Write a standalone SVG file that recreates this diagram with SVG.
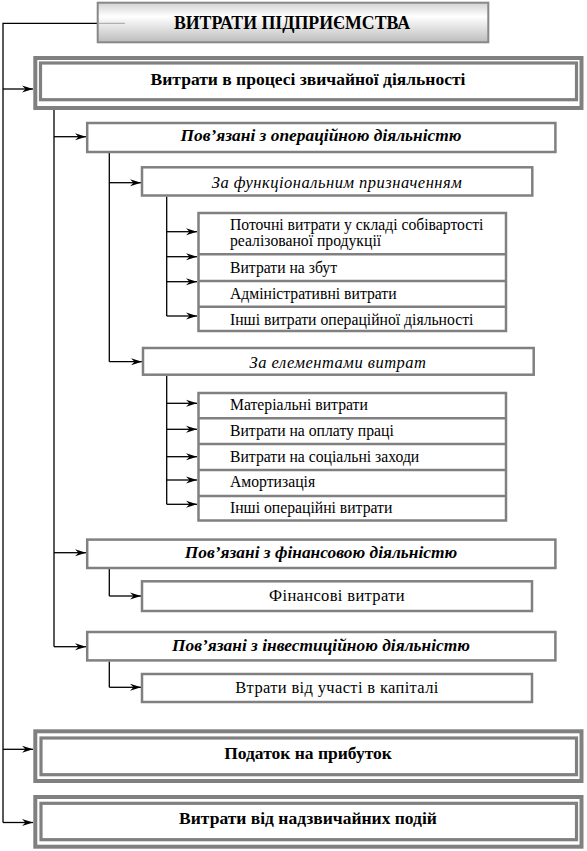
<svg xmlns="http://www.w3.org/2000/svg" width="587" height="851" viewBox="0 0 587 851" font-family="'Liberation Serif', 'Times New Roman', serif">
<style>
text{font-family:'Liberation Serif','Times New Roman',serif;fill:#000}
.b{font-weight:bold}
.bi{font-weight:bold;font-style:italic;font-size:17.4px}
.i{font-style:italic;font-size:16.5px;letter-spacing:0.5px}
.t{font-size:15.7px}
.s{font-size:16.5px;letter-spacing:0.35px}
.m{font-size:17.5px}
.box{fill:#fff;stroke:#808080;stroke-width:2.5}
.out{fill:#fff;stroke:#808080;stroke-width:4}
.inn{fill:#fff;stroke:#808080;stroke-width:3.2}
.div{stroke:#808080;stroke-width:2.5}
.c{fill:none;stroke:#000;stroke-width:1.3}
</style>
<defs>
<linearGradient id="g" x1="0" y1="0" x2="0" y2="1">
<stop offset="0" stop-color="#d2d2d2"/>
<stop offset="0.35" stop-color="#ffffff"/>
<stop offset="1" stop-color="#bcbcbc"/>
</linearGradient>
<marker id="a" markerUnits="userSpaceOnUse" markerWidth="12" markerHeight="8" refX="11" refY="4" orient="auto">
<path d="M0,0.5 L11,4 L0,7.5 L3.5,4 Z" fill="#000"/>
</marker>
</defs>

<g id="connectors">
<path class="c" d="M97,23.3 H3 V822.5"/>
<line x1="97" y1="23.3" x2="125" y2="23.3" stroke="#a0a0a0" stroke-width="1"/>
<line class="c" x1="3" y1="89" x2="33" y2="89" marker-end="url(#a)"/>
<line class="c" x1="3" y1="749.3" x2="33" y2="749.3" marker-end="url(#a)"/>
<line class="c" x1="3" y1="822.5" x2="33" y2="822.5" marker-end="url(#a)"/>
<path class="c" d="M54,108 V646.7"/>
<line class="c" x1="54" y1="136.7" x2="86" y2="136.7" marker-end="url(#a)"/>
<line class="c" x1="54" y1="552.7" x2="86" y2="552.7" marker-end="url(#a)"/>
<line class="c" x1="54" y1="646.7" x2="86" y2="646.7" marker-end="url(#a)"/>
<path class="c" d="M109.3,153 V361.7"/>
<line class="c" x1="109.3" y1="182.7" x2="141" y2="182.7" marker-end="url(#a)"/>
<line class="c" x1="109.3" y1="361.7" x2="142" y2="361.7" marker-end="url(#a)"/>
<path class="c" d="M166.7,196.5 V316"/>
<line class="c" x1="166.7" y1="231.7" x2="197" y2="231.7" marker-end="url(#a)"/>
<line class="c" x1="166.7" y1="256.7" x2="197" y2="256.7" marker-end="url(#a)"/>
<line class="c" x1="166.7" y1="281.7" x2="197" y2="281.7" marker-end="url(#a)"/>
<line class="c" x1="166.7" y1="316" x2="197" y2="316" marker-end="url(#a)"/>
<path class="c" d="M166.7,376 V504.3"/>
<line class="c" x1="166.7" y1="403.3" x2="197" y2="403.3" marker-end="url(#a)"/>
<line class="c" x1="166.7" y1="429.3" x2="197" y2="429.3" marker-end="url(#a)"/>
<line class="c" x1="166.7" y1="456.7" x2="197" y2="456.7" marker-end="url(#a)"/>
<line class="c" x1="166.7" y1="480" x2="197" y2="480" marker-end="url(#a)"/>
<line class="c" x1="166.7" y1="504.3" x2="197" y2="504.3" marker-end="url(#a)"/>
<path class="c" d="M109.3,569 V596"/>
<line class="c" x1="109.3" y1="596" x2="141" y2="596" marker-end="url(#a)"/>
<path class="c" d="M109.3,661.5 V687.3"/>
<line class="c" x1="109.3" y1="687.3" x2="141" y2="687.3" marker-end="url(#a)"/>
</g>

<g id="root">
<rect x="97.7" y="2.7" width="390.6" height="39.6" fill="url(#g)" stroke="#888" stroke-width="2"/>
<line x1="98.7" y1="23.3" x2="125" y2="23.3" stroke="#a0a0a0" stroke-width="1"/>
<text class="b" x="292" y="28.5" font-size="17.8" text-anchor="middle">ВИТРАТИ ПІДПРИЄМСТВА</text>
</g>

<g id="ordinary">
<rect class="out" x="35.3" y="58" width="546.2" height="50"/>
<rect class="inn" x="40.5" y="63" width="536" height="36.7"/>
<text class="b m" x="308" y="85" text-anchor="middle">Витрати в процесі звичайної діяльності</text>
</g>

<g id="operational">
<rect class="box" x="87.2" y="123" width="468.2" height="29"/>
<text class="bi" x="321" y="141" text-anchor="middle">Пов’язані з операційною діяльністю</text>
</g>

<g id="functional">
<rect class="box" x="142" y="167.3" width="390.3" height="28.2"/>
<text class="i" x="337" y="188" text-anchor="middle">За функціональним призначенням</text>
</g>

<g id="functional-items">
<rect class="box" x="198.5" y="213" width="307.5" height="118"/>
<line class="div" x1="198.5" y1="254.3" x2="506" y2="254.3"/>
<line class="div" x1="198.5" y1="281" x2="506" y2="281"/>
<line class="div" x1="198.5" y1="306.7" x2="506" y2="306.7"/>
<text class="t" x="230" y="230.3">Поточні витрати у складі собівартості</text>
<text class="t" x="230" y="245.8">реалізованої продукції</text>
<text class="t" x="230" y="273">Витрати на збут</text>
<text class="t" x="230" y="299">Адміністративні витрати</text>
<text class="t" x="230" y="325">Інші витрати операційної діяльності</text>
</g>

<g id="elements">
<rect class="box" x="143" y="348" width="390.7" height="26.7"/>
<text class="i" x="338" y="368" text-anchor="middle">За елементами витрат</text>
</g>

<g id="element-items">
<rect class="box" x="198.5" y="393" width="307.5" height="127.5"/>
<line class="div" x1="198.5" y1="418.3" x2="506" y2="418.3"/>
<line class="div" x1="198.5" y1="444" x2="506" y2="444"/>
<line class="div" x1="198.5" y1="470" x2="506" y2="470"/>
<line class="div" x1="198.5" y1="496" x2="506" y2="496"/>
<text class="t" x="230" y="410">Матеріальні витрати</text>
<text class="t" x="230" y="436">Витрати на оплату праці</text>
<text class="t" x="230" y="461.5">Витрати на соціальні заходи</text>
<text class="t" x="230" y="486.5">Амортизація</text>
<text class="t" x="230" y="513">Інші операційні витрати</text>
</g>

<g id="financial">
<rect class="box" x="87.2" y="539.6" width="468.2" height="28.4"/>
<text class="bi" x="321" y="558" text-anchor="middle">Пов’язані з фінансовою діяльністю</text>
</g>

<g id="financial-costs">
<rect class="box" x="142" y="581.3" width="390" height="29.7"/>
<text class="s" x="337" y="601" text-anchor="middle">Фінансові витрати</text>
</g>

<g id="investment">
<rect class="box" x="87.2" y="632" width="468.2" height="28.4"/>
<text class="bi" x="321" y="650.5" text-anchor="middle">Пов’язані з інвестиційною діяльністю</text>
</g>

<g id="investment-losses">
<rect class="box" x="142" y="674" width="390" height="28"/>
<text class="s" x="337" y="693" text-anchor="middle">Втрати від участі в капіталі</text>
</g>

<g id="tax">
<rect class="out" x="35.3" y="731.3" width="546.2" height="49.7"/>
<rect class="inn" x="41" y="738" width="535.5" height="36.7"/>
<text class="b m" x="308" y="759" text-anchor="middle">Податок на прибуток</text>
</g>

<g id="extraordinary">
<rect class="out" x="35.3" y="797" width="546.2" height="49.7"/>
<rect class="inn" x="41" y="803.3" width="535.5" height="36.4"/>
<text class="b m" x="308" y="824" text-anchor="middle">Витрати від надзвичайних подій</text>
</g>
</svg>
